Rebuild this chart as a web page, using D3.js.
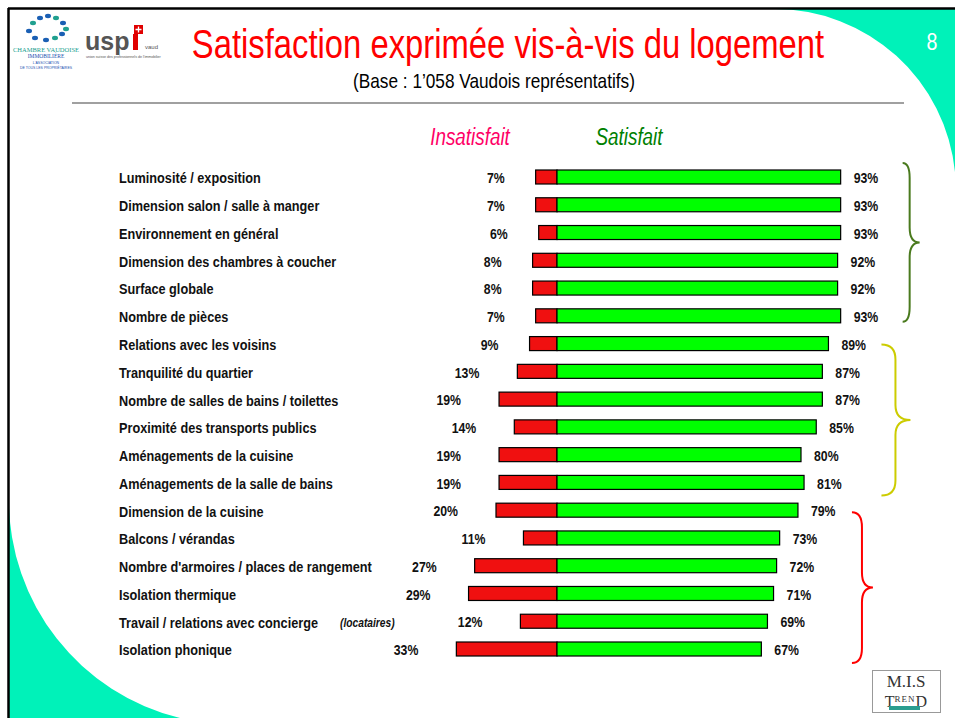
<!DOCTYPE html>
<html>
<head>
<meta charset="utf-8">
<script src="https://cdn.jsdelivr.net/npm/d3@7"></script>
<style>
  body { margin: 0; background: #fff; }
  svg { display: block; }
</style>
</head>
<body>
<div id="chart"></div>
<script>
// chart data
var categories = [
  "Luminosité / exposition",
  "Dimension salon / salle à manger",
  "Environnement en général",
  "Dimension des chambres à coucher",
  "Surface globale",
  "Nombre de pièces",
  "Relations avec les voisins",
  "Tranquilité du quartier",
  "Nombre de salles de bains / toilettes",
  "Proximité des transports publics",
  "Aménagements de la cuisine",
  "Aménagements de la salle de bains",
  "Dimension de la cuisine",
  "Balcons / vérandas",
  "Nombre d'armoires / places de rangement",
  "Isolation thermique",
  "Travail / relations avec concierge",
  "Isolation phonique"
];
var notes = ["", "", "", "", "", "", "", "", "", "", "", "", "", "", "", "", "(locataires)", ""];
var insatisfait = [7, 7, 6, 8, 8, 7, 9, 13, 19, 14, 19, 19, 20, 11, 27, 29, 12, 33];
var satisfait = [93, 93, 93, 92, 92, 93, 89, 87, 87, 85, 80, 81, 79, 73, 72, 71, 69, 67];
var groupFirst = [0, 6, 12];
var groupLast = [5, 11, 17];

var title = "Satisfaction exprimée vis-à-vis du logement";
var subtitle = "(Base : 1\u2019058 Vaudois représentatifs)";
var pageNo = "8";

// layout / style
var W = 955, H = 718;
var sans = "'Liberation Sans', Arial, sans-serif";
var serif = "'Liberation Serif', 'DejaVu Serif', serif";
var squeeze = 0.82;   // no narrow font installed, so condense by hand
var teal = "#00f2b9";
var braceColors = ["#4a7a1e", "#cccc00", "#ff0000"];
var braceDx = [62, 53, 54];
var braceTop = [-15, 0, 1];
var braceBottom = [5, 12, 13];
var braceW = [[7, 10], [14, 15], [10, 11]];

function narrowText(sel, x, y) {
  return sel.append("text")
    .attr("transform", "translate(" + x + "," + y + ") scale(" + squeeze + ",1)")
    .attr("font-family", sans);
}

var svg = d3.select("#chart").append("svg")
  .attr("width", W).attr("height", H);

svg.append("rect").attr("width", W).attr("height", H).attr("fill", "#fff");

// teal corners
svg.append("path")
  .attr("d", "M775,9 A181,181 0 0 1 955,172 L955,9 Z")
  .attr("fill", teal);
svg.append("path")
  .attr("d", "M9,500 A224,224 0 0 0 180,718 L9,718 Z")
  .attr("fill", teal);

// frame
svg.append("line").attr("x1", 8).attr("x2", W).attr("y1", 8.5).attr("y2", 8.5)
  .attr("stroke", "#000").attr("stroke-width", 2.5);
svg.append("line").attr("x1", 8.5).attr("x2", 8.5).attr("y1", 8).attr("y2", H)
  .attr("stroke", "#000").attr("stroke-width", 2.5);

// header
narrowText(svg, 508, 58).attr("text-anchor", "middle")
  .attr("font-size", 40).attr("fill", "#ff0000").text(title);
narrowText(svg, 494, 88).attr("text-anchor", "middle")
  .attr("font-size", 21).attr("fill", "#000").text(subtitle);
narrowText(svg, 932, 50).attr("text-anchor", "middle")
  .attr("font-size", 24).attr("fill", "#fff").text(pageNo);
svg.append("line").attr("x1", 72).attr("x2", 904).attr("y1", 103).attr("y2", 103)
  .attr("stroke", "#808080").attr("stroke-width", 1.5);

// logo: chambre vaudoise immobiliere
var logo1 = svg.append("g");
var dots = [[40, 18, "#1a5fb4"], [48, 16, "#1a5fb4"], [56, 18, "#20a090"], [63, 23, "#1a5fb4"],
            [33, 23, "#20a090"], [66, 29, "#20a090"], [29, 31, "#1a5fb4"], [62, 34, "#1a5fb4"],
            [35, 38, "#1a5fb4"], [46, 40, "#1a5fb4"], [55, 38, "#20a090"]];
logo1.selectAll("ellipse").data(dots).join("ellipse")
  .attr("cx", function (d) { return d[0]; }).attr("cy", function (d) { return d[1]; })
  .attr("rx", 3).attr("ry", 2.2).attr("fill", function (d) { return d[2]; });
logo1.append("text").attr("x", 46).attr("y", 52).attr("text-anchor", "middle")
  .attr("font-family", serif).attr("font-size", 6.5)
  .attr("fill", "#20a090").text("CHAMBRE VAUDOISE");
logo1.append("text").attr("x", 46).attr("y", 58).attr("text-anchor", "middle")
  .attr("font-family", serif).attr("font-size", 5.5)
  .attr("fill", "#2050b0").text("IMMOBILIÈRE");
logo1.append("text").attr("x", 46).attr("y", 64).attr("text-anchor", "middle")
  .attr("font-family", sans).attr("font-size", 3.5)
  .attr("fill", "#2050b0").text("L'ASSOCIATION");
logo1.append("text").attr("x", 46).attr("y", 69).attr("text-anchor", "middle")
  .attr("font-family", sans).attr("font-size", 3.5)
  .attr("fill", "#2050b0").text("DE TOUS LES PROPRIÉTAIRES");

// logo: uspi vaud
var logo2 = svg.append("g");
logo2.append("text").attr("x", 85).attr("y", 50)
  .attr("font-family", sans).attr("font-weight", "bold")
  .attr("font-size", 25).attr("fill", "#555").text("usp");
logo2.append("rect").attr("x", 133).attr("y", 34).attr("width", 5).attr("height", 16).attr("fill", "#e00000");
logo2.append("rect").attr("x", 134).attr("y", 25).attr("width", 9).attr("height", 9).attr("fill", "#e00000");
logo2.append("path").attr("d", "M138.5,26.5 V32.5 M135.5,29.5 H141.5").attr("stroke", "#fff").attr("stroke-width", 1.3);
logo2.append("text").attr("x", 145).attr("y", 49)
  .attr("font-family", sans).attr("font-size", 6)
  .attr("fill", "#555").text("vaud");
logo2.append("text").attr("x", 86).attr("y", 58)
  .attr("font-family", sans).attr("font-size", 3.6)
  .attr("fill", "#555").text("union suisse des professionnels de l'immobilier");

// scales
var center = 557;
var xSat = d3.scaleLinear().domain([0, 100]).range([center, center + 305]);
var xDis = d3.scaleLinear().domain([0, 100]).range([center, center - 305]);
var y = d3.scalePoint().domain(d3.range(categories.length)).range([178, 650]);
var barH = 14;

// column headers
narrowText(svg, 470, 145).attr("text-anchor", "middle")
  .attr("font-style", "italic").attr("font-size", 23)
  .attr("fill", "#ff0066").text("Insatisfait");
narrowText(svg, 629, 145).attr("text-anchor", "middle")
  .attr("font-style", "italic").attr("font-size", 23)
  .attr("fill", "#008000").text("Satisfait");

var rows = svg.append("g").selectAll("g").data(categories).join("g")
  .attr("transform", function (d, i) { return "translate(0," + y(i) + ")"; });

rows.each(function (d, i) {
  var row = d3.select(this);

  narrowText(row, 119, 0).attr("dy", "0.35em")
    .attr("font-weight", "bold").attr("font-size", 15.5)
    .attr("fill", "#111").text(d);

  if (notes[i]) {
    narrowText(row, 340, 0).attr("dy", "0.35em")
      .attr("font-style", "italic").attr("font-weight", "bold")
      .attr("font-size", 12.5).attr("fill", "#111").text(notes[i]);
  }

  row.append("rect")
    .attr("x", xDis(insatisfait[i]))
    .attr("y", -barH / 2 - 1)
    .attr("width", xDis(0) - xDis(insatisfait[i]))
    .attr("height", barH)
    .attr("fill", "#f01010").attr("stroke", "#000").attr("stroke-width", 1.2);

  row.append("rect")
    .attr("x", xSat(0))
    .attr("y", -barH / 2 - 1)
    .attr("width", xSat(satisfait[i]) - xSat(0))
    .attr("height", barH)
    .attr("fill", "#00ff00").attr("stroke", "#000").attr("stroke-width", 1.2);

  var v = insatisfait[i];
  narrowText(row, xDis(v) - (v >= 10 ? 38 : 31), 0)
    .attr("dy", "0.35em").attr("text-anchor", "end")
    .attr("font-weight", "bold").attr("font-size", 15)
    .attr("fill", "#111").text(v + "%");

  narrowText(row, xSat(satisfait[i]) + 13, 0)
    .attr("dy", "0.35em")
    .attr("font-weight", "bold").attr("font-size", 15)
    .attr("fill", "#111").text(satisfait[i] + "%");
});

// braces
groupFirst.forEach(function (f, g) {
  var l = groupLast[g];
  var maxV = d3.max(satisfait.slice(f, l + 1));
  var x0 = xSat(maxV) + braceDx[g];
  var y0 = y(f) + braceTop[g], y1 = y(l) + braceBottom[g], ym = (y0 + y1) / 2;
  var w1 = braceW[g][0], w2 = braceW[g][1];
  var r = 15;
  var p = d3.path();
  p.moveTo(x0, y0);
  p.quadraticCurveTo(x0 + w1, y0, x0 + w1, y0 + r);
  p.lineTo(x0 + w1, ym - r);
  p.quadraticCurveTo(x0 + w1, ym, x0 + w1 + w2, ym);
  p.quadraticCurveTo(x0 + w1, ym, x0 + w1, ym + r);
  p.lineTo(x0 + w1, y1 - r);
  p.quadraticCurveTo(x0 + w1, y1, x0, y1);
  svg.append("path").attr("d", p.toString())
    .attr("fill", "none").attr("stroke", braceColors[g]).attr("stroke-width", 2);
});

// logo: M.I.S TREND
var logo3 = svg.append("g");
logo3.append("rect").attr("x", 872.5).attr("y", 670.5).attr("width", 68).attr("height", 42)
  .attr("fill", "#fff").attr("stroke", "#999").attr("stroke-width", 1);
logo3.append("text").attr("x", 906).attr("y", 687).attr("text-anchor", "middle")
  .attr("font-family", serif).attr("font-size", 17)
  .attr("fill", "#333").text("M.I.S");
var tr = logo3.append("text").attr("x", 906).attr("y", 707).attr("text-anchor", "middle")
  .attr("font-family", serif).attr("fill", "#333");
tr.append("tspan").attr("font-size", 16).text("T");
tr.append("tspan").attr("font-size", 9).attr("dy", -5).attr("letter-spacing", 1).text("REN");
tr.append("tspan").attr("font-size", 16).attr("dy", 5).text("D");
logo3.append("rect").attr("x", 889).attr("y", 706).attr("width", 31).attr("height", 4).attr("fill", "#2a9d8f");
</script>
</body>
</html>
